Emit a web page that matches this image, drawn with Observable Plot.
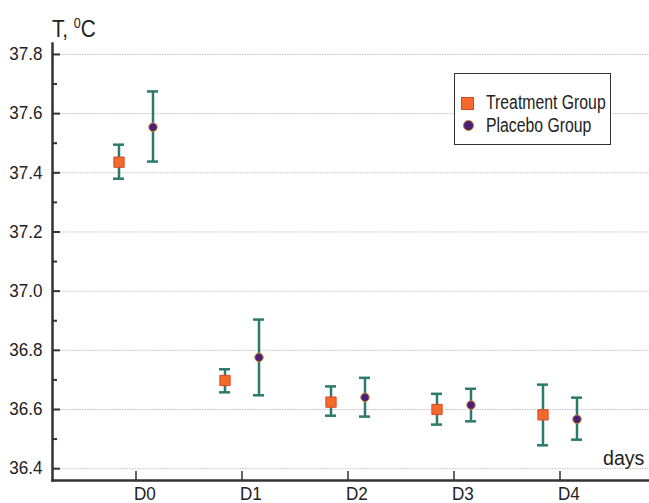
<!DOCTYPE html>
<html><head><meta charset="utf-8">
<script src="https://cdn.jsdelivr.net/npm/d3@7"></script>
<script src="https://cdn.jsdelivr.net/npm/@observablehq/plot@0.6"></script>
<style>
body{margin:0;background:#fff;}
#wrap{position:relative;width:649px;height:503px;font-family:"Liberation Sans",Arial,sans-serif;color:#222;}
#wrap svg{position:absolute;left:0;top:0;}
.ov{position:absolute;white-space:nowrap;line-height:20px;transform-origin:0 50%;}
#title{left:52px;top:17px;font-size:23px;line-height:24px;transform:scaleX(0.9);}
#title sup{font-size:14px;vertical-align:9px;line-height:0;}
#days{left:603px;top:448px;font-size:20px;transform:scaleX(0.98);}
#legend{position:absolute;left:454px;top:73px;width:157px;height:72px;box-sizing:border-box;border:1.5px solid #333;background:#fff;}
#legend .sq{position:absolute;left:6px;top:23px;width:13px;height:13px;box-sizing:border-box;background:#f26b2b;border:1px solid #d8462a;}
#legend .ci{position:absolute;left:8px;top:45.5px;width:11px;height:11px;box-sizing:border-box;border-radius:50%;background:#4a1f78;border:1px solid #c9802c;}
#legend .tx{position:absolute;left:31px;font-size:19.5px;line-height:20px;white-space:nowrap;transform:scaleX(0.81);transform-origin:0 50%;}
</style></head><body><div id="wrap"></div>
<script>
const days = ["D0", "D1", "D2", "D3", "D4"];
const groups = ["Treatment Group", "Placebo Group"];
const treatMean = [37.436, 36.698, 36.625, 36.600, 36.582];
const treatLow  = [37.380, 36.658, 36.579, 36.549, 36.479];
const treatHigh = [37.495, 36.736, 36.678, 36.653, 36.684];
const placMean  = [37.554, 36.776, 36.641, 36.615, 36.567];
const placLow   = [37.438, 36.648, 36.576, 36.560, 36.498];
const placHigh  = [37.675, 36.904, 36.707, 36.670, 36.640];
const yMajorTicks = [36.4, 36.6, 36.8, 37.0, 37.2, 37.4, 37.6, 37.8];
const yMinorTicks = [36.5, 36.7, 36.9, 37.1, 37.3, 37.5, 37.7];

const FONT = '"Liberation Sans",Arial,sans-serif';
const TEAL = "#2a7b6c", ORANGE = "#f26b2b", PURPLE = "#4a1f78", AXIS = "#333";

const treat = days.map((d, i) => ({day: d, mean: treatMean[i], lo: treatLow[i], hi: treatHigh[i]}));
const plac = days.map((d, i) => ({day: d, mean: placMean[i], lo: placLow[i], hi: placHigh[i]}));

const errMarks = (data, dx) => [
  Plot.ruleX(data, {x: "day", y1: "lo", y2: "hi", dx, stroke: TEAL, strokeWidth: 2.5}),
  Plot.tickY(data, {x: "day", y: "lo", dx, stroke: TEAL, strokeWidth: 2.5}),
  Plot.tickY(data, {x: "day", y: "hi", dx, stroke: TEAL, strokeWidth: 2.5})
];

const plot = Plot.plot({
  width: 649, height: 503,
  marginLeft: 52, marginRight: 0, marginTop: 43, marginBottom: 23,
  style: {fontFamily: FONT, fontSize: "18px", color: "#222", background: "transparent"},
  x: {type: "band", domain: days, paddingInner: 0.8965, paddingOuter: 0.7295, insetRight: 6, axis: null},
  y: {domain: [36.36, 37.837], axis: null},
  marks: [
    Plot.gridY(yMajorTicks, {stroke: "#c4c4c4", strokeOpacity: 1, strokeDasharray: "1.5,1"}),
    Plot.axisY(yMajorTicks, {tickSize: 0, tickPadding: 10, tickFormat: d => d.toFixed(1), label: null}),
    Plot.axisY(yMajorTicks, {tickSize: -8, text: null, label: null, stroke: AXIS, strokeWidth: 2}),
    Plot.axisY(yMinorTicks, {tickSize: -5, text: null, label: null, stroke: AXIS, strokeWidth: 2}),
    Plot.axisX(days, {tickSize: -9, text: null, label: null, stroke: AXIS, strokeWidth: 1.5}),
    Plot.axisX(days, {tickSize: 0, tickPadding: 7, textAnchor: "start", dx: -2, label: null}),
    Plot.frame({anchor: "left", stroke: AXIS, strokeWidth: 2.5}),
    Plot.frame({anchor: "bottom", stroke: AXIS, strokeWidth: 2.5}),
    ...errMarks(treat, -17),
    ...errMarks(plac, 17),
    Plot.dot(treat, {x: "day", y: "mean", dx: -17, symbol: "square", r: 5.8, fill: ORANGE, stroke: "#d8462a", strokeWidth: 1}),
    Plot.dot(plac, {x: "day", y: "mean", dx: 17, r: 4.2, fill: PURPLE, stroke: "#c9802c", strokeWidth: 1})
  ]
});

// slightly condensed tick labels, as in the reference
plot.querySelectorAll('g[aria-label$="tick label"] text').forEach(t => {
  const tr = t.getAttribute("transform") || "";
  t.setAttribute("transform", tr + " scale(0.95,1)");
});

const wrap = document.getElementById("wrap");
wrap.appendChild(plot);
wrap.insertAdjacentHTML("beforeend",
  `<div class="ov" id="title">T, <sup>0</sup>C</div>
   <div class="ov" id="days">days</div>
   <div id="legend">
     <div class="sq"></div><div class="tx" style="top:18px">${groups[0]}</div>
     <div class="ci"></div><div class="tx" style="top:41px">${groups[1]}</div>
   </div>`);
</script>
</body></html>
